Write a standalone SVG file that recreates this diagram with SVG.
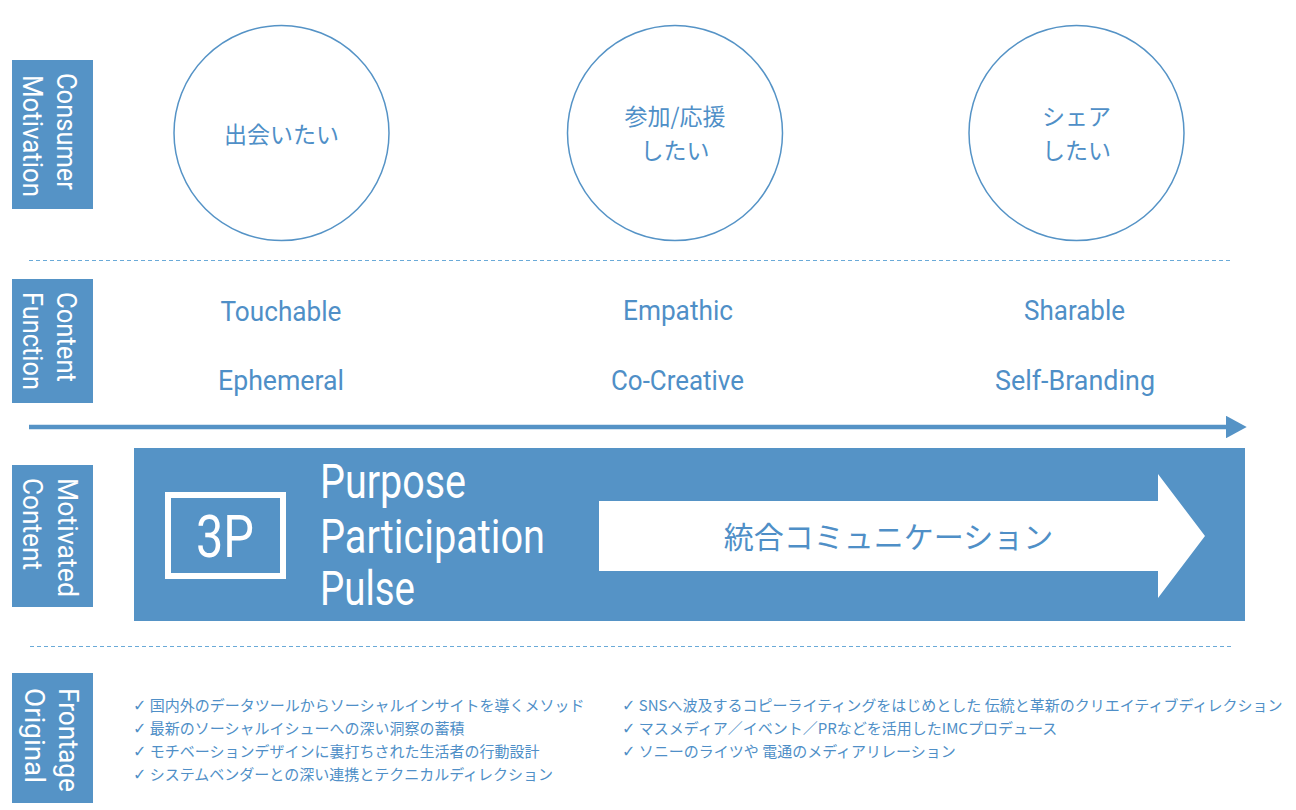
<svg xmlns="http://www.w3.org/2000/svg" width="1296" height="810" viewBox="0 0 1296 810">
<style>
.lab{fill:#5593C6;}
.labt{fill:#fff;font-family:Roboto,"Noto Sans",sans-serif;font-size:28px;}
.circ{fill:#fff;stroke:#5593C6;stroke-width:1.5;}
.jp{fill:#4F8FC7;font-family:"Noto Sans CJK JP",sans-serif;text-anchor:middle;}
.fn{fill:#4F8FC7;font-family:Roboto,"Noto Sans",sans-serif;font-size:28px;text-anchor:middle;}
.dash{stroke:#6AAAD8;stroke-width:1;stroke-dasharray:4,3;fill:none;}
.wt{fill:#fff;font-family:Roboto,"Noto Sans",sans-serif;}
.li{fill:#4F8FC7;font-family:"Noto Sans CJK JP","DejaVu Sans",sans-serif;font-size:15px;}
.ck{font-family:"DejaVu Sans",sans-serif;font-size:16px;}
</style>
<defs>
<marker id="ah" markerWidth="5" markerHeight="5" refX="0" refY="2.5" orient="auto" markerUnits="strokeWidth">
<path d="M0,0 L4.6,2.5 L0,5 Z" fill="#5593C6"/>
</marker>
</defs>
<rect width="1296" height="810" fill="#fff"/>

<g id="label-consumer-motivation">
<rect class="lab" x="12" y="60" width="81" height="149"/>
<text class="labt" transform="translate(57,73) rotate(90)" textLength="117" lengthAdjust="spacingAndGlyphs">Consumer</text>
<text class="labt" transform="translate(23,75) rotate(90)" textLength="122" lengthAdjust="spacingAndGlyphs">Motivation</text>
</g>
<g id="label-content-function">
<rect class="lab" x="12" y="279" width="81" height="124"/>
<text class="labt" transform="translate(57,292) rotate(90)" textLength="90" lengthAdjust="spacingAndGlyphs">Content</text>
<text class="labt" transform="translate(23,292) rotate(90)" textLength="98" lengthAdjust="spacingAndGlyphs">Function</text>
</g>
<g id="label-motivated-content">
<rect class="lab" x="12" y="465" width="81" height="142"/>
<text class="labt" transform="translate(58,478) rotate(90)" textLength="119" lengthAdjust="spacingAndGlyphs">Motivated</text>
<text class="labt" transform="translate(23,478) rotate(90)" textLength="92" lengthAdjust="spacingAndGlyphs">Content</text>
</g>
<g id="label-frontage-original">
<rect class="lab" x="12" y="673" width="81" height="130"/>
<text class="labt" transform="translate(59,688) rotate(90)" textLength="104" lengthAdjust="spacingAndGlyphs">Frontage</text>
<text class="labt" transform="translate(25,688) rotate(90)" textLength="95" lengthAdjust="spacingAndGlyphs">Original</text>
</g>

<g id="circle-meet">
<circle class="circ" cx="281.5" cy="133" r="107.5"/>
<text class="jp" x="281.5" y="143" font-size="23">出会いたい</text>
</g>
<g id="circle-participate">
<circle class="circ" cx="675" cy="133" r="107.5"/>
<text class="jp" x="675" y="125" font-size="23">参加/応援</text>
<text class="jp" x="675" y="159" font-size="23">したい</text>
</g>
<g id="circle-share">
<circle class="circ" cx="1076.5" cy="133" r="107.5"/>
<text class="jp" x="1076.5" y="125" font-size="23">シェア</text>
<text class="jp" x="1076.5" y="159" font-size="23">したい</text>
</g>

<g id="dividers">
<line class="dash" x1="29" y1="260.5" x2="1230" y2="260.5"/>
<line class="dash" x1="30" y1="646.5" x2="1232" y2="646.5"/>
</g>

<g id="function-touchable">
<text class="fn" x="281" y="321" textLength="121" lengthAdjust="spacingAndGlyphs">Touchable</text>
<text class="fn" x="281" y="390" textLength="126" lengthAdjust="spacingAndGlyphs">Ephemeral</text>
</g>
<g id="function-empathic">
<text class="fn" x="678" y="320" textLength="110" lengthAdjust="spacingAndGlyphs">Empathic</text>
<text class="fn" x="677.5" y="390" textLength="133" lengthAdjust="spacingAndGlyphs">Co-Creative</text>
</g>
<g id="function-sharable">
<text class="fn" x="1074.5" y="320" textLength="101" lengthAdjust="spacingAndGlyphs">Sharable</text>
<text class="fn" x="1075" y="390" textLength="160" lengthAdjust="spacingAndGlyphs">Self-Branding</text>
</g>

<g id="connectors">
<line x1="29" y1="427" x2="1226" y2="427" stroke="#5593C6" stroke-width="4.5" marker-end="url(#ah)"/>
</g>

<g id="motivated-content">
<rect x="134" y="448" width="1111" height="173" fill="#5593C6"/>
<rect x="168" y="495" width="115" height="81" fill="none" stroke="#fff" stroke-width="6"/>
<text class="wt" x="225" y="557" font-size="60" text-anchor="middle" textLength="58" lengthAdjust="spacingAndGlyphs">3P</text>
<text class="wt" x="320" y="498" font-size="48" textLength="146" lengthAdjust="spacingAndGlyphs">Purpose</text>
<text class="wt" x="320" y="553" font-size="48" textLength="225" lengthAdjust="spacingAndGlyphs">Participation</text>
<text class="wt" x="320" y="605" font-size="48" textLength="95" lengthAdjust="spacingAndGlyphs">Pulse</text>
<path d="M599,501 L1158,501 L1158,474 L1205,536 L1158,598 L1158,571 L599,571 Z" fill="#fff"/>
<text class="jp" x="888.5" y="548" font-size="30">統合コミュニケーション</text>
</g>

<g id="frontage-list">
<text class="li" x="133" y="711"><tspan class="ck">✓</tspan> 国内外のデータツールからソーシャルインサイトを導くメソッド</text>
<text class="li" x="133" y="734"><tspan class="ck">✓</tspan> 最新のソーシャルイシューへの深い洞察の蓄積</text>
<text class="li" x="133" y="757"><tspan class="ck">✓</tspan> モチベーションデザインに裏打ちされた生活者の行動設計</text>
<text class="li" x="133" y="780"><tspan class="ck">✓</tspan> システムベンダーとの深い連携とテクニカルディレクション</text>
<text class="li" x="622" y="711"><tspan class="ck">✓</tspan> SNSへ波及するコピーライティングをはじめとした 伝統と革新のクリエイティブディレクション</text>
<text class="li" x="622" y="734"><tspan class="ck">✓</tspan> マスメディア／イベント／PRなどを活用したIMCプロデュース</text>
<text class="li" x="622" y="757"><tspan class="ck">✓</tspan> ソニーのライツや 電通のメディアリレーション</text>
</g>
</svg>
